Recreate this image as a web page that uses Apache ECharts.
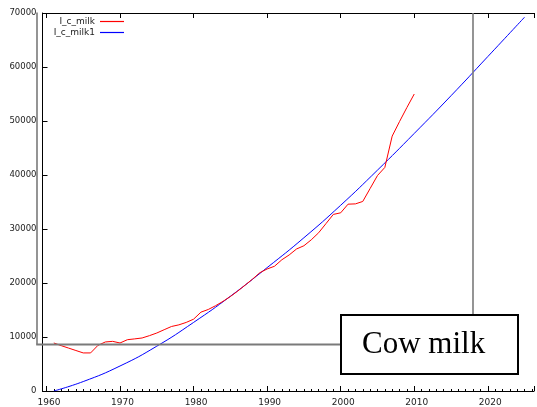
<!DOCTYPE html>
<html>
<head>
<meta charset="utf-8">
<script src="https://cdn.jsdelivr.net/npm/echarts@6/dist/echarts.min.js"></script>
<style>html,body{margin:0;padding:0;background:#fff}#c{width:537px;height:407px}</style>
</head>
<body>
<div id="c"></div>
<script>
// Observed series (year, value)
const milkYears = [1961,1962,1963,1964,1965,1966,1967,1968,1969,1970,1971,1972,1973,1974,1975,1976,1977,1978,1979,1980,1981,1982,1983,1984,1985,1986,1987,1988,1989,1990,1991,1992,1993,1994,1995,1996,1997,1998,1999,2000,2001,2002,2003,2004,2005,2006,2007,2008,2009,2010];
const milkValues = [8890,8400,7950,7500,7050,7050,8450,9080,9190,8890,9500,9650,9820,10250,10740,11350,11950,12250,12700,13300,14600,15100,15800,16600,17500,18500,19600,20700,21900,22600,23100,24300,25200,26300,26900,28000,29300,31000,32700,33000,34600,34650,35100,37500,39900,41400,47200,49900,52500,55000];
// Fitted series (year, value)
const fitYears = [1961,1965,1970,1975,1980,1985,1990,1995,2000,2005,2010,2015,2020,2025];
const fitValues = [0,1750,4630,8300,12700,17540,22850,28380,34400,40900,47700,54680,61930,69230];
const yTicks = [0,10000,20000,30000,40000,50000,60000,70000];
const xMin = 1959.46, xMax = 2026.28;
const seriesNames = ['I_c_milk','I_c_milk1'];
const seriesColors = ['#ff0000','#0000ff'];
const boxLabel = 'Cow milk';

const chart = echarts.init(document.getElementById('c'), null, {renderer:'canvas'});
const font = 'DejaVu Sans';
const zip = (xs, ys) => xs.map((x,i)=>[x, ys[i]]);
const axisCommon = {
  type:'value', min:xMin, max:xMax, splitNumber:7,
  splitLine:{show:false}
};
const legendFor = (i, top) => ({
  data:[{name:seriesNames[i], icon:'path://M0,0L24,0L24,1.2L0,1.2Z',
         itemStyle:{color:seriesColors[i], borderWidth:0}}],
  orient:'vertical', align:'right', right:413, top:top, padding:0,
  itemWidth:24, itemHeight:1.2,
  textStyle:{fontFamily:font, fontSize:9, color:'#222'}
});
chart.setOption({
  animation:false,
  backgroundColor:'#fff',
  grid:{left:42.5, right:0, top:13, bottom:14.5, containLabel:false},
  legend:[legendFor(0,17), legendFor(1,28)],
  xAxis:[
    Object.assign({}, axisCommon, {
      position:'bottom',
      axisLine:{show:true, lineStyle:{color:'#000', width:1}},
      axisTick:{show:true, inside:true, length:5, lineStyle:{color:'#000'}},
      minorTick:{show:true, splitNumber:10, length:2, lineStyle:{color:'#000'}},
      axisLabel:{fontFamily:font, fontSize:9, color:'#222', margin:7, padding:[0,0,0,5],
        formatter:v => (Math.abs(v - Math.round(v/10)*10) < 1e-6 ? String(Math.round(v)) : '')}
    }),
    Object.assign({}, axisCommon, {
      position:'top',
      axisLine:{show:true, onZero:false, lineStyle:{color:'#000', width:1}},
      axisTick:{show:true, inside:true, length:5, lineStyle:{color:'#000'}},
      axisLabel:{show:false}
    })
  ],
  yAxis:{
    type:'value', min:yTicks[0], max:yTicks[yTicks.length-1], interval:yTicks[1]-yTicks[0],
    axisLine:{show:true, lineStyle:{color:'#000', width:1}},
    axisTick:{show:true, inside:true, length:5, lineStyle:{color:'#000'}},
    splitLine:{show:false},
    axisLabel:{fontFamily:font, fontSize:8.5, color:'#222', margin:6, formatter:v => String(v)}
  },
  series:[
    {name:seriesNames[0], type:'line', data:zip(milkYears, milkValues), showSymbol:false, symbol:'none',
     lineStyle:{color:seriesColors[0], width:1}, itemStyle:{color:seriesColors[0]}, z:3},
    {name:seriesNames[1], type:'line', data:zip(fitYears, fitValues), showSymbol:false, symbol:'none', smooth:true,
     lineStyle:{color:seriesColors[1], width:1}, itemStyle:{color:seriesColors[1]}, z:2}
  ],
  graphic:[
    {type:'line', z:100, shape:{x1:37, y1:12.5, x2:37, y2:344.5}, style:{stroke:'#7a7a7a', lineWidth:1.6}},
    {type:'line', z:100, shape:{x1:473, y1:13, x2:473, y2:316}, style:{stroke:'#7a7a7a', lineWidth:1.6}},
    {type:'line', z:100, shape:{x1:36.2, y1:344.5, x2:341, y2:344.5}, style:{stroke:'#7a7a7a', lineWidth:2}},
    {type:'rect', z:101, shape:{x:341, y:315, width:177, height:59}, style:{fill:'#fff', stroke:'#000', lineWidth:2}},
    {type:'text', z:102, left:362, top:329, style:{text:boxLabel, fontFamily:'Liberation Serif', fontSize:31, fill:'#000'}}
  ]
});
</script>
</body>
</html>
